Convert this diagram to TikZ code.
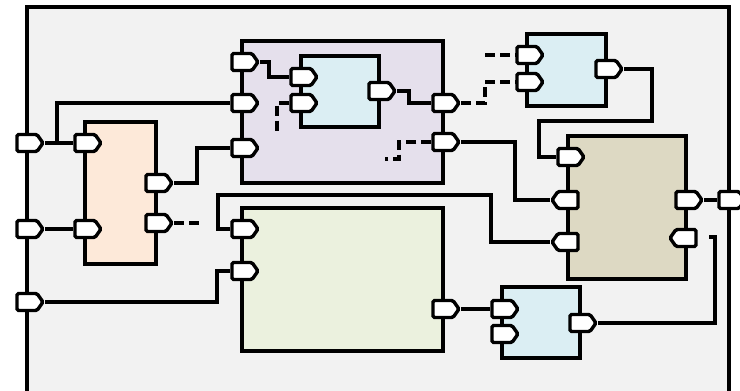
\documentclass[tikz,border=0pt]{standalone}
\usetikzlibrary{shapes.symbols}

\definecolor{sheet}{HTML}{F2F2F2}
\definecolor{peach}{HTML}{FDE9D9}
\definecolor{lilac}{HTML}{E5E0EC}
\definecolor{ice}{HTML}{DBEEF3}
\definecolor{olive}{HTML}{EBF1DE}
\definecolor{sand}{HTML}{DDD9C3}

\begin{document}
\begin{tikzpicture}[x=1pt, y=-1pt,
	blk/.style={draw, line width=4.5pt, inner sep=0pt, rectangle},
	port/.style={draw, fill=white, line width=3.4pt, shape=signal, signal from=nowhere,
		signal to=east, signal pointer angle=110, minimum width=26pt,
		minimum height=17pt, inner sep=0pt, rounded corners=1.5pt},
	portw/.style={port, signal to=west},
	wire/.style={line width=3.6pt},
	loose/.style={wire, dash pattern=on 10pt off 5pt}]
	\clip (0,0) rectangle (740,391);

	% outer sheet
	\fill[sheet] (27,7) rectangle (729,430);
	\draw[line width=4.5pt] (27,430) -- (27,7) -- (729,7) -- (729,430);

	% blocks
	\node[blk, fill=peach, minimum width=71pt, minimum height=142pt] (feed) at (120.5,193) {};
	\node[blk, fill=lilac, minimum width=201pt, minimum height=142pt] (proc) at (342.5,112) {};
	\node[blk, fill=ice, minimum width=78pt, minimum height=71pt] (filt) at (340,91.5) {};
	\node[blk, fill=olive, minimum width=201pt, minimum height=143pt] (calc) at (342.5,279.5) {};
	\node[blk, fill=ice, minimum width=79pt, minimum height=72pt] (sens) at (566.5,70) {};
	\node[blk, fill=sand, minimum width=118pt, minimum height=143pt] (mix) at (627,207.5) {};
	\node[blk, fill=ice, minimum width=78pt, minimum height=71pt] (drv) at (541,322.5) {};

	% ports on the sheet
	\node[port] (f1) at (27,143) {};
	\node[port] (f2) at (27,229) {};
	\node[port] (f3) at (27,302) {};
	\node[port] (f4) at (729,200) {};

	% ports on the blocks
	\node[port] (feedA) at (85,143) {};
	\node[port] (feedB) at (85,229) {};
	\node[port] (feedX) at (156,183) {};
	\node[port] (feedY) at (156,223) {};

	\node[port] (procA) at (242,62) {};
	\node[port] (procB) at (242,103) {};
	\node[port] (procC) at (242,148) {};
	\node[port] (procD) at (443,103) {};
	\node[port] (procE) at (443,142) {};

	\node[port] (filtA) at (301,77) {};
	\node[port] (filtB) at (301,103) {};
	\node[port] (filtO) at (379,91) {};

	\node[port] (sensA) at (527,55) {};
	\node[port] (sensB) at (527,82) {};
	\node[port] (sensO) at (606,69) {};

	\node[port] (mixA) at (568,157) {};
	\node[portw] (mixB) at (568,200) {};
	\node[portw] (mixC) at (568,242) {};
	\node[port] (mixX) at (686,200) {};
	\node[portw] (mixY) at (686,238) {};

	\node[port] (calcA) at (242,229) {};
	\node[port] (calcB) at (242,271) {};
	\node[port] (calcO) at (443,309) {};

	\node[port] (drvA) at (502,309) {};
	\node[port] (drvB) at (502,334) {};
	\node[port] (drvO) at (580,323) {};

	% loose ends
	\coordinate (j1) at (57,143);
	\coordinate (e1) at (200,223);
	\coordinate (e2) at (277,135);
	\coordinate (e3) at (385,159);
	\coordinate (e4) at (485,55);
	\coordinate (e5) at (709,237);

	% wires
	\draw[wire] (f1) -- (feedA);
	\draw[wire] (j1) |- (procB);
	\draw[wire] (f2) -- (feedB);
	\draw[wire] (feedX) -| (197,148) -- (procC);
	\draw[loose] (feedY) -- (e1);
	\draw[wire] (f3) -| (217,271) -- (calcB);
	\draw[wire] (calcA) -| (218,195) -| (491,242) -- (mixC);
	\draw[wire] (calcO) -- (drvA);
	\draw[wire] (drvO) -| (715,237) -- (e5);
	\draw[wire] (mixX) -- (f4);
	\draw[wire] (procE) -| (515,200) -- (mixB);
	\draw[loose] (procD) -| (485,82) -- (sensB);
	\draw[loose] (e4) -- (sensA);
	\draw[wire] (sensO) -| (652,121) -| (539,157) -- (mixA);

	% inside proc
	\draw[wire] (procA) -| (269,77) -- (filtA);
	\draw[loose] (filtB) -- (277,103) -- (e2);
	\draw[wire] (filtO) -| (409,103) -- (procD);
	\draw[loose] (procE) -| (399,159) -- (e3);
\end{tikzpicture}
\end{document}
